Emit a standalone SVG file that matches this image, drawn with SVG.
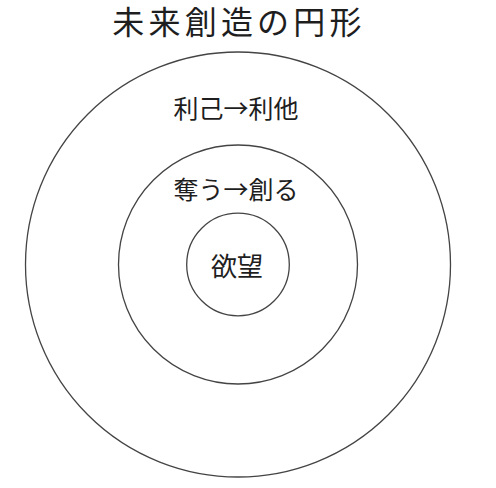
<svg xmlns="http://www.w3.org/2000/svg" width="496" height="488" viewBox="0 0 496 488">
<style>
.ring{fill:none;stroke:#444;stroke-width:1.3}
.t{font-family:"Noto Sans CJK JP","Noto Sans CJK SC",sans-serif;fill:#1e1e1e;text-anchor:middle}
</style>
<rect width="496" height="488" fill="#fff"/>
<text class="t" x="239" y="34" font-size="32" letter-spacing="4.2">未来創造の円形</text>
<g id="outer">
<circle class="ring" cx="238" cy="264.5" r="212.5"/>
<text class="t" x="236" y="118" font-size="25">利己→利他</text>
</g>
<g id="middle">
<circle class="ring" cx="238" cy="264.5" r="119.5"/>
<text class="t" x="236" y="199" font-size="25">奪う→創る</text>
</g>
<g id="inner">
<circle class="ring" cx="238" cy="264.5" r="51.3"/>
<text class="t" x="237" y="276" font-size="26">欲望</text>
</g>
<g id="connectors"></g>
</svg>
